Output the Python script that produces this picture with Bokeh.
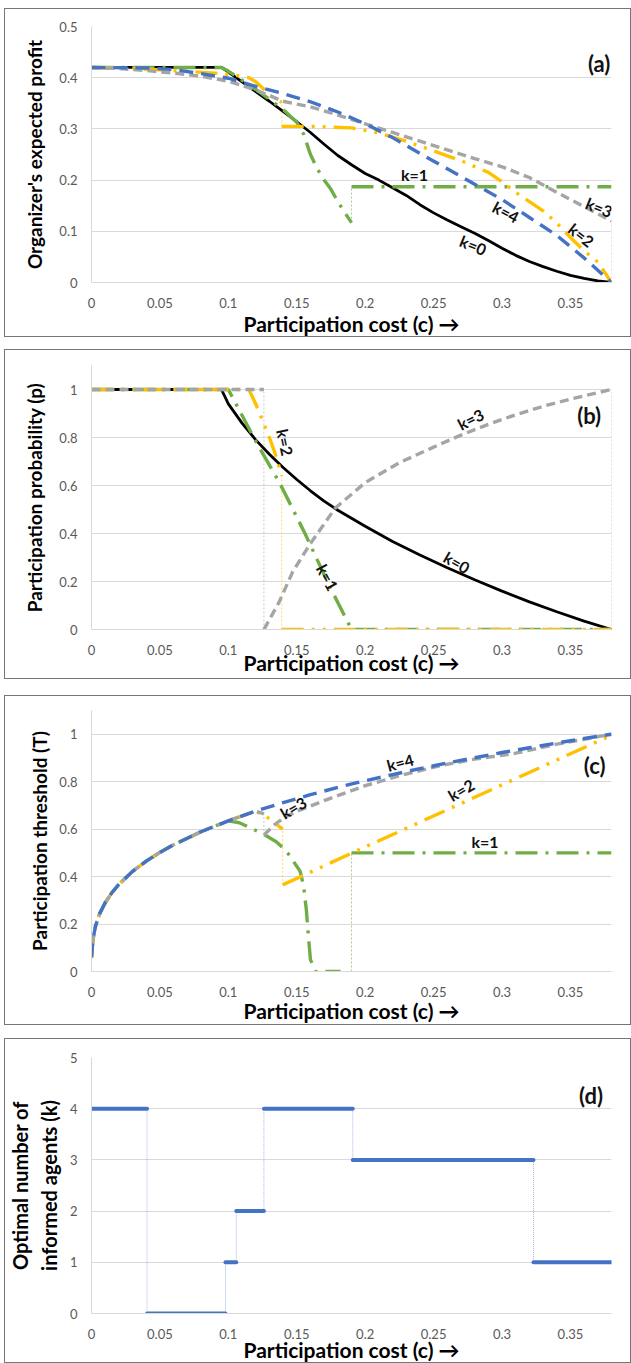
from bokeh.plotting import figure
from bokeh.layouts import column
from bokeh.models import Range1d, FixedTicker, ColumnDataSource
from bokeh.core.properties import value
from bokeh.embed import file_html
from bokeh.resources import INLINE

# ---------------- data ----------------
X_TICKS = [0, 0.05, 0.1, 0.15, 0.2, 0.25, 0.3, 0.35]
X_TICK_LABELS = ["0", "0.05", "0.1", "0.15", "0.2", "0.25", "0.3", "0.35"]

# (a) Organizer's expected profit
a_c0 = [0, 0.095, 0.1, 0.11, 0.12, 0.13, 0.14, 0.15, 0.16, 0.17, 0.18, 0.19, 0.2, 0.21, 0.22, 0.23, 0.24,
        0.25, 0.26, 0.27, 0.28, 0.29, 0.3, 0.31, 0.32, 0.33, 0.34, 0.35, 0.36, 0.37, 0.38]
a_k0 = [0.42, 0.42, 0.411, 0.392, 0.373, 0.354, 0.334, 0.314, 0.293, 0.27, 0.248, 0.23, 0.213, 0.2, 0.185,
        0.17, 0.152, 0.136, 0.122, 0.109, 0.096, 0.082, 0.067, 0.053, 0.041, 0.031, 0.022, 0.014, 0.008, 0.003, 0.0]
a_c1 = [0, 0.095, 0.1, 0.11, 0.12, 0.13, 0.14, 0.15, 0.155, 0.16, 0.165, 0.17, 0.175, 0.18, 0.185, 0.19]
a_k1 = [0.42, 0.42, 0.413, 0.395, 0.377, 0.358, 0.338, 0.313, 0.29, 0.25, 0.222, 0.2, 0.182, 0.158, 0.137, 0.117]
a_c1b = [0.19, 0.38]
a_k1b = [0.187, 0.187]
a_c2 = [0, 0.03, 0.06, 0.09, 0.105, 0.115, 0.12, 0.125, 0.13, 0.139]
a_k2 = [0.42, 0.418, 0.414, 0.409, 0.405, 0.4, 0.392, 0.38, 0.366, 0.352]
a_c2b = [0.139, 0.16, 0.19, 0.21, 0.23, 0.25, 0.27, 0.29, 0.3, 0.31, 0.32, 0.33, 0.34, 0.35, 0.36, 0.37, 0.38]
a_k2b = [0.305, 0.305, 0.302, 0.292, 0.276, 0.257, 0.238, 0.215, 0.197, 0.176, 0.158, 0.14, 0.116, 0.088, 0.062,
         0.04, 0.0]
a_c3 = [0, 0.02, 0.04, 0.06, 0.08, 0.1, 0.12, 0.14, 0.16, 0.18, 0.2, 0.22, 0.24, 0.26, 0.28, 0.3, 0.32, 0.34,
        0.36, 0.38]
a_k3 = [0.42, 0.418, 0.414, 0.409, 0.403, 0.393, 0.376, 0.354, 0.343, 0.327, 0.31, 0.293, 0.276, 0.259, 0.242,
        0.226, 0.205, 0.176, 0.148, 0.12]
a_c4 = [0, 0.04, 0.06, 0.08, 0.1, 0.12, 0.14, 0.16, 0.18, 0.2, 0.22, 0.24, 0.26, 0.28, 0.3, 0.32, 0.34, 0.36, 0.38]
a_k4 = [0.42, 0.419, 0.416, 0.408, 0.399, 0.383, 0.369, 0.353, 0.333, 0.31, 0.283, 0.252, 0.222, 0.192, 0.162,
        0.127, 0.092, 0.048, 0.0]
a_jump_c = [0.139, 0.19, 0.38]
a_jump_lo = [0.305, 0.117, 0.0]
a_jump_hi = [0.352, 0.187, 0.12]
a_jump_k = [2, 1, 3]

# (b) Participation probability
b_c0 = [0, 0.095, 0.1, 0.11, 0.12, 0.13, 0.14, 0.15, 0.16, 0.17, 0.18, 0.2, 0.22, 0.24, 0.26, 0.28, 0.3, 0.32,
        0.34, 0.36, 0.38]
b_k0 = [1, 1, 0.94, 0.86, 0.79, 0.73, 0.675, 0.625, 0.578, 0.535, 0.497, 0.43, 0.367, 0.31, 0.257, 0.207, 0.16,
        0.115, 0.074, 0.035, 0.0]
b_c1 = [0, 0.1, 0.12, 0.138, 0.156, 0.174, 0.19, 0.38]
b_k1 = [1, 1, 0.785, 0.605, 0.4, 0.18, 0, 0]
b_c2 = [0, 0.115, 0.12, 0.125, 0.13, 0.135, 0.139]
b_k2 = [1, 1, 0.94, 0.87, 0.8, 0.72, 0.64]
b_c2b = [0.139, 0.38]
b_k2b = [0, 0]
b_c3 = [0, 0.126]
b_k3 = [1, 1]
b_c3b = [0.126, 0.137, 0.147, 0.159, 0.178, 0.2, 0.225, 0.25, 0.27, 0.29, 0.31, 0.33, 0.35, 0.38]
b_k3b = [0, 0.113, 0.24, 0.35, 0.505, 0.612, 0.695, 0.76, 0.81, 0.855, 0.895, 0.93, 0.96, 1.0]
b_jump_c = [0.126, 0.139, 0.38]
b_jump_lo = [0, 0, 0]
b_jump_hi = [1, 0.64, 1]
b_jump_k = [3, 2, 3]

# (c) Participation threshold
c_c4 = [0, 0.001, 0.003, 0.006, 0.01, 0.015, 0.02, 0.03, 0.04, 0.05, 0.06, 0.08, 0.1, 0.12, 0.14, 0.16, 0.18,
        0.2, 0.22, 0.24, 0.26, 0.28, 0.3, 0.32, 0.34, 0.36, 0.38]
c_k4 = [0.06, 0.133, 0.193, 0.244, 0.29, 0.333, 0.367, 0.422, 0.465, 0.502, 0.534, 0.589, 0.635, 0.676, 0.712,
        0.745, 0.776, 0.804, 0.83, 0.855, 0.879, 0.901, 0.923, 0.943, 0.963, 0.982, 1.0]
c_c3 = [0, 0.001, 0.003, 0.006, 0.01, 0.015, 0.02, 0.03, 0.04, 0.05, 0.06, 0.08, 0.1, 0.12, 0.126]
c_k3 = [0.06, 0.133, 0.193, 0.244, 0.29, 0.333, 0.367, 0.422, 0.465, 0.502, 0.534, 0.589, 0.635, 0.676, 0.664]
c_c3b = [0.126, 0.134, 0.141, 0.15, 0.17, 0.2, 0.227, 0.255, 0.28, 0.31, 0.34, 0.38]
c_k3b = [0.575, 0.62, 0.649, 0.675, 0.72, 0.783, 0.828, 0.868, 0.895, 0.92, 0.958, 1.0]
c_c2 = [0, 0.001, 0.003, 0.006, 0.01, 0.015, 0.02, 0.03, 0.04, 0.05, 0.06, 0.08, 0.1, 0.12, 0.128, 0.134, 0.1397]
c_k2 = [0.06, 0.133, 0.193, 0.244, 0.29, 0.333, 0.367, 0.422, 0.465, 0.502, 0.534, 0.589, 0.635, 0.676, 0.652,
        0.625, 0.6]
c_c2b = [0.1397, 0.189, 0.38]
c_k2b = [0.365, 0.496, 0.996]
c_c1 = [0, 0.001, 0.003, 0.006, 0.01, 0.015, 0.02, 0.03, 0.04, 0.05, 0.06, 0.08, 0.1, 0.108, 0.118, 0.1268,
        0.135, 0.1425, 0.1525, 0.155, 0.157, 0.1585, 0.16, 0.164, 0.182]
c_k1 = [0.06, 0.133, 0.193, 0.244, 0.29, 0.333, 0.367, 0.422, 0.465, 0.502, 0.534, 0.589, 0.635, 0.627, 0.6,
        0.575, 0.547, 0.507, 0.422, 0.36, 0.26, 0.15, 0.05, 0.0, 0.0]
c_c1b = [0.19, 0.38]
c_k1b = [0.5, 0.5]
c_jump_c = [0.126, 0.1397, 0.19]
c_jump_lo = [0.575, 0.365, 0.0]
c_jump_hi = [0.664, 0.6, 0.5]
c_jump_k = [3, 2, 1]

# (d) Optimal number of informed agents
d_start = [0, 0.0406, 0.0979, 0.1058, 0.126, 0.1909, 0.323]
d_end = [0.0406, 0.0979, 0.1058, 0.126, 0.1909, 0.323, 0.38]
d_k = [4, 0, 1, 2, 4, 3, 1]

# curve labels
a_lab_x = [0.236, 0.303, 0.358, 0.371, 0.279]
a_lab_y = [0.21, 0.138, 0.093, 0.147, 0.073]
a_lab_t = ["k=1", "k=4", "k=2", "k=3", "k=0"]
a_lab_ang = [0, -28, -38, -22, -22]
b_lab_x = [0.1416, 0.1726, 0.267, 0.277]
b_lab_y = [0.78, 0.217, 0.28, 0.877]
b_lab_t = ["k=2", "k=1", "k=0", "k=3"]
b_lab_ang = [-78, -62, -30, 27]
c_lab_x = [0.2256, 0.1474, 0.27, 0.2876]
c_lab_y = [0.882, 0.691, 0.766, 0.547]
c_lab_t = ["k=4", "k=3", "k=2", "k=1"]
c_lab_ang = [15, 30, 30, 0]

# ---------------- styling ----------------
COLORS = {0: "#000000", 1: "#70AD47", 2: "#FFC000", 3: "#A5A5A5", 4: "#4472C4"}
WIDTHS = {0: 2.8, 1: 3.4, 2: 3.4, 3: 3.4, 4: 3.4}
DASHES = {0: "solid", 1: "22 8 3 8", 2: "22 8 3 8 3 8", 3: "9 5", 4: "14 8"}
FONT = "Lato"


def make_fig(h, ymax, yticks, ylabels, ytitle, mtop, mleft, mright, btop, bbottom, ystand, xstand,
             ysize="19px"):
    # h is the inner (canvas) height; the 1px CSS border is included in the element size
    p = figure(width=627, height=h + 2, x_range=Range1d(0, 0.38), y_range=Range1d(0, ymax),
               output_backend="svg", toolbar_location=None,
               min_border_left=mleft, min_border_right=mright,
               min_border_top=btop, min_border_bottom=bbottom,
               background_fill_color="white", border_fill_color="white",
               outline_line_color=None,
               styles={"border": "1px solid #767676"}, margin=(mtop, 0, 0, 4))
    p.xaxis.ticker = FixedTicker(ticks=X_TICKS)
    p.xaxis.major_label_overrides = dict(zip(X_TICKS, X_TICK_LABELS))
    p.yaxis.ticker = FixedTicker(ticks=yticks)
    p.yaxis.major_label_overrides = dict(zip(yticks, ylabels))
    for ax in (p.xaxis[0], p.yaxis[0]):
        ax.axis_line_color = "#D9D9D9"
        ax.major_tick_line_color = None
        ax.minor_tick_line_color = None
        ax.major_tick_out = 0
        ax.major_tick_in = 0
        ax.minor_tick_out = 0
        ax.major_label_text_font = FONT
        ax.major_label_text_font_size = "13px"
        ax.major_label_text_color = "#595959"
        ax.axis_label_text_font = FONT
        ax.axis_label_text_font_style = "bold"
        ax.axis_label_text_color = "#000000"
    p.xaxis.axis_label_text_font_size = "21px"
    p.yaxis.axis_label_text_font_size = ysize
    p.xaxis.major_label_standoff = 15
    p.yaxis.major_label_standoff = 14
    p.xaxis.axis_label = "Participation cost (c) →"
    p.yaxis.axis_label = ytitle
    p.xaxis.axis_label_standoff = xstand
    p.yaxis.axis_label_standoff = ystand
    p.xgrid.grid_line_color = None
    p.ygrid.ticker = FixedTicker(ticks=yticks)
    p.ygrid.grid_line_color = "#D9D9D9"
    p.ygrid.grid_line_width = 1
    return p


def curve(p, xs, ys, k):
    p.line(xs, ys, line_color=COLORS[k], line_width=WIDTHS[k], line_dash=DASHES[k])


def jumps(p, xs, lo, hi, ks):
    p.segment(x0=xs, y0=lo, x1=xs, y1=hi, line_color=[COLORS[k] for k in ks],
              line_width=1, line_alpha=0.6, line_dash="2 2")


def labels(p, xs, ys, ts, angs):
    src = ColumnDataSource(dict(x=xs, y=ys, t=ts, a=angs))
    p.text(x="x", y="y", text="t", angle="a", angle_units="deg", source=src,
           text_font=value(FONT), text_font_style="bold", text_font_size="16px",
           text_color="#111111", text_align="center", text_baseline="middle")


def panel_tag(p, x, y, t):
    p.text(x=[x], y=[y], text=[t], text_font=value(FONT), text_font_style="bold",
           text_font_size="22px", text_color="#111111", text_align="center", text_baseline="middle")


# ---------------- (a) ----------------
pa = make_fig(327, 0.5, [0, 0.1, 0.2, 0.3, 0.4, 0.5], ["0", "0.1", "0.2", "0.3", "0.4", "0.5"],
              "Organizer's expected profit", 8, 75, 21, 17, 56, 10, 0)
jumps(pa, a_jump_c, a_jump_lo, a_jump_hi, a_jump_k)
curve(pa, a_c0, a_k0, 0)
curve(pa, a_c1, a_k1, 1)
curve(pa, a_c1b, a_k1b, 1)
curve(pa, a_c2, a_k2, 2)
curve(pa, a_c2b, a_k2b, 2)
curve(pa, a_c3, a_k3, 3)
curve(pa, a_c4, a_k4, 4)
labels(pa, a_lab_x, a_lab_y, a_lab_t, a_lab_ang)
panel_tag(pa, 0.371, 0.428, "(a)")

# ---------------- (b) ----------------
pb = make_fig(328, 1.1, [0, 0.2, 0.4, 0.6, 0.8, 1], ["0", "0.2", "0.4", "0.6", "0.8", "1"],
              "Participation probability (p)", 12, 78, 12, 15, 51, 10, -8)
jumps(pb, b_jump_c, b_jump_lo, b_jump_hi, b_jump_k)
curve(pb, b_c0, b_k0, 0)
curve(pb, b_c1, b_k1, 1)
curve(pb, b_c2, b_k2, 2)
curve(pb, b_c2b, b_k2b, 2)
curve(pb, b_c3, b_k3, 3)
curve(pb, b_c3b, b_k3b, 3)
labels(pb, b_lab_x, b_lab_y, b_lab_t, b_lab_ang)
panel_tag(pb, 0.3637, 0.89, "(b)")

# ---------------- (c) ----------------
pc = make_fig(328, 1.1, [0, 0.2, 0.4, 0.6, 0.8, 1], ["0", "0.2", "0.4", "0.6", "0.8", "1"],
              "Participation threshold (T)", 16, 78, 12, 14, 55, 5, -2)
jumps(pc, c_jump_c, c_jump_lo, c_jump_hi, c_jump_k)
curve(pc, c_c1, c_k1, 1)
curve(pc, c_c1b, c_k1b, 1)
curve(pc, c_c2, c_k2, 2)
curve(pc, c_c2b, c_k2b, 2)
curve(pc, c_c3, c_k3, 3)
curve(pc, c_c3b, c_k3b, 3)
curve(pc, c_c4, c_k4, 4)
labels(pc, c_lab_x, c_lab_y, c_lab_t, c_lab_ang)
panel_tag(pc, 0.3677, 0.868, "(c)")

# ---------------- (d) ----------------
pd_ = make_fig(323, 5, [0, 1, 2, 3, 4, 5], ["0", "1", "2", "3", "4", "5"],
               "Optimal number of\ninformed agents (k)", 13, 78, 18, 18, 51, 6, -5, ysize="20px")
pd_.segment(x0=d_end[:-1], y0=d_k[:-1], x1=d_end[:-1], y1=d_k[1:], line_color="#8EA9DB",
            line_width=1, line_alpha=0.8, line_dash="1 1")
pd_.segment(x0=d_start, y0=d_k, x1=d_end, y1=d_k, line_color=COLORS[4], line_width=4, line_cap="round")
panel_tag(pd_, 0.365, 4.26, "(d)")

layout = column(pa, pb, pc, pd_, spacing=0)
open("out.html", "w").write(file_html(layout, INLINE))
